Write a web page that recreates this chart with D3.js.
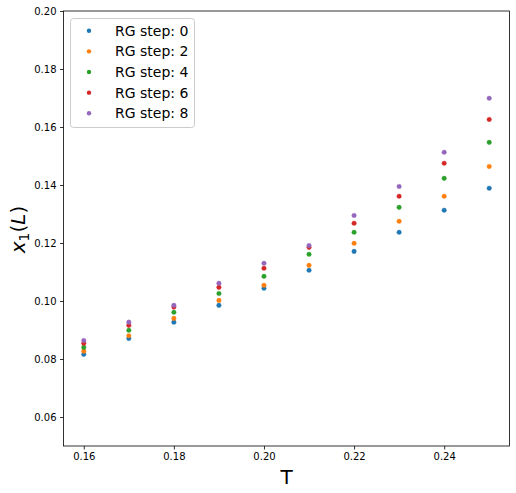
<!DOCTYPE html>
<html>
<head>
<meta charset="utf-8">
<script src="https://cdn.jsdelivr.net/npm/d3@7"></script>
<style>
  body { margin: 0; background: #fff; }
  svg { font-family: "DejaVu Sans", sans-serif; }
</style>
</head>
<body>
<div id="chart"></div>
<script>
// temperatures
var temps = [0.16, 0.17, 0.18, 0.19, 0.20, 0.21, 0.22, 0.23, 0.24, 0.25];
var stepNames = ["RG step: 0", "RG step: 2", "RG step: 4", "RG step: 6", "RG step: 8"];
var stepColors = ["#1f77b4", "#ff7f0e", "#2ca02c", "#d62728", "#9467bd"];
var step0 = [0.0816, 0.0871, 0.0927, 0.0985, 0.1044, 0.1106, 0.1171, 0.1237, 0.1313, 0.1389];
var step2 = [0.0827, 0.0880, 0.0940, 0.1002, 0.1054, 0.1123, 0.1199, 0.1275, 0.1361, 0.1464];
var step4 = [0.0840, 0.0899, 0.0961, 0.1026, 0.1085, 0.1161, 0.1237, 0.1323, 0.1423, 0.1547];
var step6 = [0.0854, 0.0916, 0.0979, 0.1047, 0.1113, 0.1185, 0.1268, 0.1361, 0.1475, 0.1626];
var step8 = [0.0864, 0.0927, 0.0985, 0.1061, 0.1130, 0.1191, 0.1295, 0.1395, 0.1513, 0.1699];
var series = [step0, step2, step4, step6, step8];
var xTicks = [0.16, 0.18, 0.20, 0.22, 0.24];
var yTicks = [0.06, 0.08, 0.10, 0.12, 0.14, 0.16, 0.18, 0.20];

var width = 516, height = 493;
var plotL = 63.5, plotR = 509.5, plotT = 11, plotB = 446;

var svg = d3.select('#chart').append('svg')
    .attr('width', width)
    .attr('height', height);

var x = d3.scaleLinear().domain([0.1555, 0.2545]).range([plotL, plotR]);
var y = d3.scaleLinear().domain([0.05, 0.20]).range([plotB, plotT]);

// points
series.forEach(function (vals, k) {
    svg.append('g').selectAll('circle')
        .data(vals).enter()
        .append('circle')
        .attr('cx', function (d, i) { return x(temps[i]); })
        .attr('cy', function (d) { return y(d); })
        .attr('r', 2.3)
        .attr('fill', stepColors[k])
        .attr('stroke', stepColors[k])
        .attr('stroke-opacity', 0.3)
        .attr('stroke-width', 1);
});

// axes
var xAxis = svg.append('g')
    .attr('transform', 'translate(0,' + plotB + ')')
    .call(d3.axisBottom(x).tickValues(xTicks).tickFormat(d3.format('.2f')).tickSize(3.5).tickPadding(3.5));
var yAxis = svg.append('g')
    .attr('transform', 'translate(' + plotL + ',0)')
    .call(d3.axisLeft(y).tickValues(yTicks).tickFormat(d3.format('.2f')).tickSize(3.5).tickPadding(3.5));
[xAxis, yAxis].forEach(function (a) {
    a.select('.domain').remove();
    a.selectAll('text').attr('font-size', 10).attr('fill', '#000').attr('font-family', 'DejaVu Sans');
    a.selectAll('line').attr('stroke', '#000').attr('stroke-width', 0.8);
});

svg.append('rect')
    .attr('x', plotL).attr('y', plotT)
    .attr('width', plotR - plotL).attr('height', plotB - plotT)
    .attr('fill', 'none').attr('stroke', '#000').attr('stroke-width', 0.8);

// axis labels
svg.append('text')
    .attr('x', (plotL + plotR) / 2).attr('y', 484)
    .attr('text-anchor', 'middle')
    .attr('font-size', 20)
    .text('T');

var yl = svg.append('text')
    .attr('transform', 'translate(25,' + ((plotT + plotB) / 2 + 1) + ')rotate(-90)')
    .attr('text-anchor', 'middle')
    .attr('font-size', 20);
yl.append('tspan').attr('font-style', 'italic').text('x');
yl.append('tspan').attr('font-size', 14).attr('dy', 4).text('1');
yl.append('tspan').attr('dy', -4).text('(');
yl.append('tspan').attr('font-style', 'italic').text('L');
yl.append('tspan').text(')');

// legend
var lg = svg.append('g');
lg.append('rect')
    .attr('x', 70.5).attr('y', 18.5)
    .attr('width', 124).attr('height', 109)
    .attr('rx', 3)
    .attr('fill', '#fff').attr('fill-opacity', 0.8)
    .attr('stroke', '#ccc').attr('stroke-width', 1);
stepNames.forEach(function (name, k) {
    var ly = 30.7 + k * 20.65;
    lg.append('circle')
        .attr('cx', 89).attr('cy', ly).attr('r', 2.2)
        .attr('fill', stepColors[k]);
    lg.append('text')
        .attr('x', 115).attr('y', ly + 5)
        .attr('font-size', 14)
        .text(name);
});
</script>
</body>
</html>
